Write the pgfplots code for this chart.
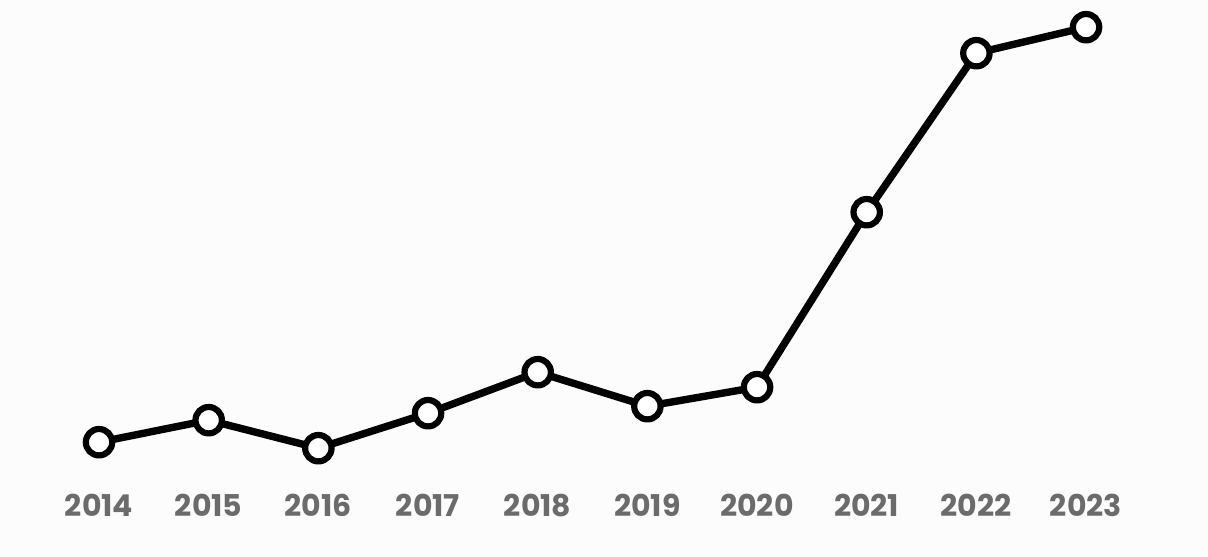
\documentclass[border=0pt]{standalone}
\usepackage{pgfplots}
\pgfplotsset{compat=1.18}
\usepackage{fontspec}
\setmainfont{Poppins}
\definecolor{bg}{HTML}{FCFCFC}
\definecolor{lbl}{HTML}{6B6B6B}
\begin{document}
\begin{tikzpicture}
\begin{axis}[
  scale only axis,
  width=604pt, height=278pt,
  xmin=2013.097, xmax=2024.112,
  ymin=0, ymax=556,
  axis background/.style={fill=bg},
  axis line style={draw=none},
  major tick length=0pt,
  ytick=\empty,
  xtick={2014,...,2023},
  xticklabel style={anchor=center, yshift=25.5pt, text=lbl, font=\bfseries\fontsize{15}{17}\selectfont},
  /pgf/number format/assume math mode=true,
  /pgf/number format/1000 sep={},
  clip=false,
]
\addplot[black, line width=3.7pt, line join=round,
  mark=*, mark size=6.6pt,
  mark options={fill=white, draw=black, line width=3.1pt}]
  coordinates {
  (2014,114) (2015,136) (2016,108) (2017,143) (2018,184)
  (2019,150) (2020,169) (2021,344) (2022,503) (2023,529)
  };
\end{axis}
\end{tikzpicture}
\end{document}
